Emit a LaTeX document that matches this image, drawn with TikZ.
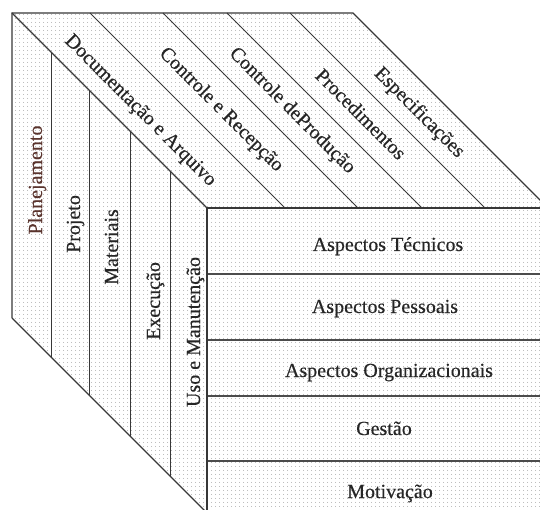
\documentclass[tikz,border=0pt]{standalone}
\usepackage{fontspec}
\setmainfont{Liberation Serif}
\usetikzlibrary{patterns.meta}
\definecolor{inkline}{HTML}{383838}
\definecolor{inktext}{HTML}{262626}
\definecolor{inkred}{HTML}{5A342D}
\definecolor{dotgrey}{HTML}{A6A6A6}
\tikzset{
  edge/.style={draw=inkline, line width=1.2pt, line join=miter},
  rowline/.style={draw=inkline!90, line width=1.6pt},
  lbl/.style={text=inktext, inner sep=0pt,
    font=\fontsize{20}{20}\selectfont\addfontfeature{FakeBold=0.4}},
  sidelbl/.style={lbl, rotate=90, anchor=base},
  toplbl/.style={lbl, rotate=-45, anchor=center},
  frontlbl/.style={lbl, anchor=base},
}
\begin{document}
\begin{tikzpicture}[x=1pt,y=-1pt]
\useasboundingbox (0,0) rectangle (540,510);
\clip (0,0) rectangle (540,510);

% corners of the cube
\coordinate (A) at (12,13);    % back top left
\coordinate (B) at (353,13);   % back top right
\coordinate (C) at (548,208);  % front top right
\coordinate (D) at (548,513);  % front bottom right
\coordinate (E) at (207,513);  % front bottom left
\coordinate (F) at (12,318);   % back bottom left
\coordinate (G) at (207,208);  % front top left

% dotted paper texture inside the cube
\fill[pattern={Dots[radius=0.6pt, distance=4pt]}, pattern color=dotgrey]
  (A) -- (B) -- (C) -- (D) -- (E) -- (F) -- cycle;

% left face: vertical strips
\foreach \x in {51,89,130,170}
  \draw[edge, line width=1pt] (\x,{13+\x-12}) -- (\x,{318+\x-12});

% top face: diagonal strips
\foreach \x in {90,163,227,290}
  \draw[edge, line width=1pt] (\x,13) -- ({\x+195},208);

% front face: rows
\foreach \y in {274,340,396,461}
  \draw[rowline] (207,\y) -- (548,\y);

% outline of the cube
\draw[edge] (F) -- (A) -- (B) -- (C);
\draw[edge] (A) -- (G);
\draw[edge] (F) -- (E);
\draw[edge] (G) -- (C);
\draw[edge] (G) -- (E);

% left face labels
\node[sidelbl, text=inkred] (planej) at (42,180) {Planejamento};
\node[sidelbl] (proj) at (80,224) {Projeto};
\node[sidelbl] (mat) at (118,247) {Materiais};
\node[sidelbl] (exec) at (160,301) {Execução};
\node[sidelbl] (uso) at (200,332) {Uso e Manutenção};

% top face labels
\node[toplbl] (doc) at (140,111) {Documentação e Arquivo};
\node[toplbl] (recep) at (221,110) {Controle e Recepção};
\node[toplbl] (prod) at (292,111) {Controle deProdução};
\node[toplbl] (proc) at (361,114) {Procedimentos};
\node[toplbl] (espec) at (419,113) {Especificações};

% front face labels
\node[frontlbl] (tec) at (388,251) {Aspectos Técnicos};
\node[frontlbl] (pess) at (385,313) {Aspectos Pessoais};
\node[frontlbl] (org) at (389,377) {Aspectos Organizacionais};
\node[frontlbl] (gest) at (384,435) {Gestão};
\node[frontlbl] (mot) at (390,498) {Motivação};
\end{tikzpicture}
\end{document}
